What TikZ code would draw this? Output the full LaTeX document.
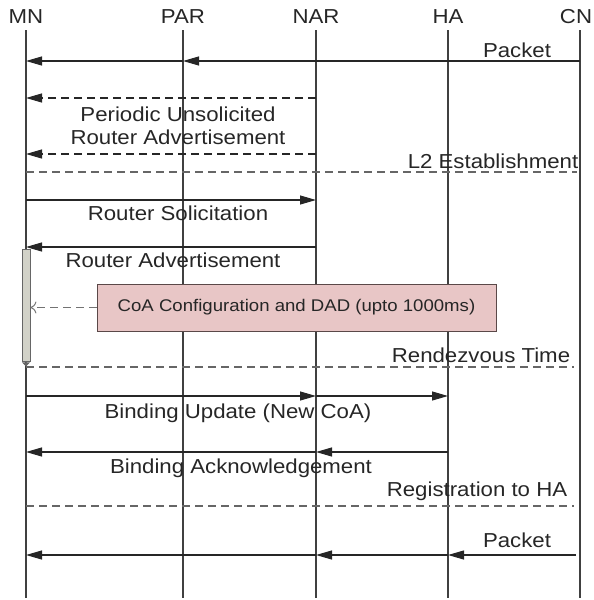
\documentclass[tikz,border=0pt]{standalone}
\usepackage{fontspec}
\setmainfont{Liberation Sans}[FakeStretch=1.1]
\usetikzlibrary{arrows.meta}
\definecolor{coapink}{HTML}{E8C6C6}
\definecolor{coaedge}{HTML}{5A4848}
\definecolor{barfill}{HTML}{D2D2C8}
\definecolor{txtgray}{HTML}{262626}
\tikzset{
  lbl/.style={text=txtgray,inner sep=0pt,font=\fontsize{20.2}{22.5}\selectfont},
  life/.style={line width=1.1pt,black!75},
  msg/.style={line width=1.1pt,black!85,->},
  dmsg/.style={msg,dash pattern=on 8pt off 5pt},
  phase/.style={line width=1.1pt,black!60,dash pattern=on 8pt off 5pt},
}
\begin{document}
\begin{tikzpicture}[x=1pt,y=-1pt,>={Triangle[length=16pt,width=9pt]}]
\useasboundingbox (0,0) rectangle (594,600);
% lifelines
\foreach \n/\t/\x/\lx in {mn/MN/26/26,par/PAR/183/183,nar/NAR/316/316,ha/HA/448/448,cn/CN/580/576}{
  \coordinate (\n) at (\x,30);
  \coordinate (\n end) at (\x,598);
  \node[lbl] (\n lbl) at (\lx,17) {\t};
  \draw[life] (\n) -- (\n end);
}
% message rows
\coordinate (r1) at (0,61);
\coordinate (r2) at (0,98);
\coordinate (r3) at (0,154);
\coordinate (r4) at (0,172);
\coordinate (r5) at (0,200);
\coordinate (r6) at (0,247);
\coordinate (r7) at (0,367);
\coordinate (r8) at (0,396);
\coordinate (r9) at (0,452);
\coordinate (r10) at (0,506);
\coordinate (r11) at (0,555);
% packet before handover
\draw[msg] (cn |- r1) -- (par |- r1);
\draw[msg] (par |- r1) -- (mn |- r1);
\node[lbl] (pkt1) at (517,50) {Packet};
% unsolicited RA
\draw[dmsg] (nar |- r2) -- (mn |- r2);
\draw[dmsg] (nar |- r3) -- (mn |- r3);
\node[lbl,align=center] (pura) at (178,126) {Periodic Unsolicited\\Router Advertisement};
\draw[phase] (mn |- r4) -- ([xshift=-3pt]cn |- r4);
\node[lbl] (l2) at (493,161) {L2 Establishment};
% solicitation
\draw[msg] (mn |- r5) -- (nar |- r5);
\node[lbl] (rs) at (178,213) {Router Solicitation};
\draw[msg] (nar |- r6) -- (mn |- r6);
\node[lbl] (ra) at (173,260) {Router Advertisement};
% CoA configuration
\node[draw=black!60,fill=barfill,line width=0.8pt,minimum width=8pt,minimum height=112pt,inner sep=0pt] (bar) at (26,305) {};
\draw[black!60,line width=0.8pt,-{Triangle[length=4pt,width=8pt]}] (bar.south) -- ++(0,5);
\node[draw=coaedge,fill=coapink,line width=1pt,minimum width=399pt,minimum height=47pt,text=txtgray,font=\fontsize{16.9}{19}\selectfont] (coa) at (296.5,307.5) {CoA Configuration and DAD (upto 1000ms)};
\draw[black!55,line width=1pt,dash pattern=on 8pt off 5pt,-{To[length=6pt,width=12pt]}] (coa.west) -- (bar.east |- coa.west);
\draw[phase] (mn |- r7) -- ([xshift=-6pt]cn |- r7);
\node[lbl] (rdv) at (481,355) {Rendezvous Time};
% binding
\draw[msg] (mn |- r8) -- (nar |- r8);
\draw[msg] (nar |- r8) -- (ha |- r8);
\node[lbl] (bu) at (238,413) {Binding Update (New CoA)};
\draw[msg] (ha |- r9) -- (nar |- r9);
\draw[msg] (nar |- r9) -- (mn |- r9);
\node[lbl] (ba) at (241,468) {Binding Acknowledgement};
\draw[phase] (mn |- r10) -- ([xshift=-6pt]cn |- r10);
\node[lbl] (reg) at (477,491) {Registration to HA};
% packet after handover
\draw[msg] ([xshift=-4pt]cn |- r11) -- (ha |- r11);
\draw[msg] (ha |- r11) -- (nar |- r11);
\draw[msg] (nar |- r11) -- (mn |- r11);
\node[lbl] (pkt2) at (517,540) {Packet};
\end{tikzpicture}
\end{document}
